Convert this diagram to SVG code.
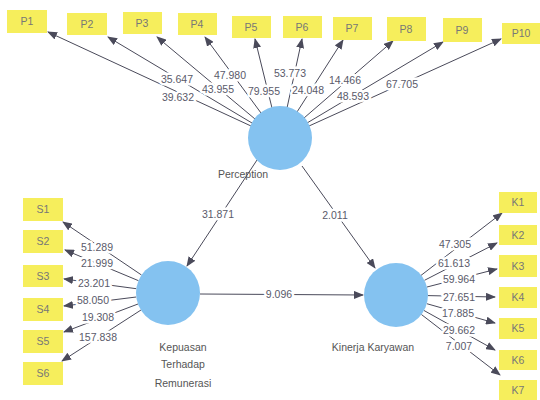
<svg xmlns="http://www.w3.org/2000/svg" width="540" height="400" viewBox="0 0 540 400">
<defs>
<marker id="ah" markerWidth="10" markerHeight="8" refX="9" refY="4" orient="auto" markerUnits="userSpaceOnUse">
<path d="M0,0 L10,4 L0,8 Z" fill="#4a4a5a"/>
</marker>
<style>
.bx{fill:#f6ee5c}
.bt{font-family:"Liberation Sans",Arial,sans-serif;font-size:10.5px;fill:#777;text-anchor:middle}
.cn line{stroke:#4a4a5a;stroke-width:1;marker-end:url(#ah)}
.lb{font-family:"Liberation Sans",Arial,sans-serif;font-size:10.5px;fill:#5a5a6a;text-anchor:middle;stroke:#fff;stroke-width:5px;paint-order:stroke;stroke-linejoin:round}
.cl{fill:#84c2f0}
.ct{font-family:"Liberation Sans",Arial,sans-serif;font-size:10.5px;fill:#555;text-anchor:middle}
</style>
</defs>
<rect width="540" height="400" fill="#fff"/>
<g id="connectors" class="cn">
<line x1="251" y1="126" x2="48" y2="32"/>
<line x1="252" y1="123" x2="108" y2="37"/>
<line x1="255" y1="119" x2="157" y2="37"/>
<line x1="261" y1="113" x2="205" y2="37"/>
<line x1="272" y1="108" x2="255" y2="39"/>
<line x1="287" y1="108" x2="302" y2="39"/>
<line x1="297" y1="112" x2="343" y2="40"/>
<line x1="304" y1="118" x2="393" y2="41"/>
<line x1="307" y1="123" x2="443" y2="42"/>
<line x1="309" y1="126" x2="501" y2="39"/>
<line x1="141.5" y1="275" x2="63" y2="222"/>
<line x1="138.5" y1="280.7" x2="65" y2="250"/>
<line x1="136.3" y1="288.7" x2="64" y2="279"/>
<line x1="136.2" y1="297" x2="64" y2="306"/>
<line x1="138" y1="304" x2="64" y2="332"/>
<line x1="141" y1="310" x2="62" y2="361"/>
<line x1="421" y1="275.4" x2="502" y2="213"/>
<line x1="424.5" y1="280.3" x2="497" y2="243"/>
<line x1="427" y1="287" x2="497" y2="269"/>
<line x1="428" y1="295.6" x2="495" y2="297"/>
<line x1="426.8" y1="303.7" x2="495" y2="323"/>
<line x1="424" y1="310.5" x2="495" y2="350"/>
<line x1="421.4" y1="314.5" x2="500" y2="375"/>
<line x1="257" y1="160" x2="187" y2="266"/>
<line x1="302" y1="166" x2="375" y2="268"/>
<line x1="200" y1="294" x2="363" y2="295"/>
</g>
<g id="labels">
<text class="lb" x="177" y="83">35.647</text>
<text class="lb" x="178" y="101">39.632</text>
<text class="lb" x="230" y="79">47.980</text>
<text class="lb" x="218" y="93">43.955</text>
<text class="lb" x="264" y="95">79.955</text>
<text class="lb" x="290" y="77">53.773</text>
<text class="lb" x="308" y="94">24.048</text>
<text class="lb" x="345" y="84">14.466</text>
<text class="lb" x="353" y="100">48.593</text>
<text class="lb" x="402" y="88">67.705</text>
<text class="lb" x="97" y="251">51.289</text>
<text class="lb" x="97" y="267">21.999</text>
<text class="lb" x="94" y="287">23.201</text>
<text class="lb" x="93" y="304">58.050</text>
<text class="lb" x="98" y="321">19.308</text>
<text class="lb" x="98" y="341">157.838</text>
<text class="lb" x="455" y="248">47.305</text>
<text class="lb" x="454" y="267">61.613</text>
<text class="lb" x="459" y="283">59.964</text>
<text class="lb" x="459" y="301">27.651</text>
<text class="lb" x="458" y="317">17.885</text>
<text class="lb" x="459" y="334">29.662</text>
<text class="lb" x="459" y="350">7.007</text>
<text class="lb" x="218" y="218">31.871</text>
<text class="lb" x="335" y="219">2.011</text>
<text class="lb" x="279" y="298">9.096</text>
</g>
<g id="perception"><circle class="cl" cx="280" cy="138" r="32"/><text class="ct" x="243" y="178">Perception</text></g>
<g id="kepuasan"><circle class="cl" cx="168" cy="293" r="32"/><text class="ct" x="183" y="351">Kepuasan</text><text class="ct" x="183" y="368">Terhadap</text><text class="ct" x="183" y="387">Remunerasi</text></g>
<g id="kinerja"><circle class="cl" cx="396" cy="295" r="32"/><text class="ct" x="373" y="351">Kinerja Karyawan</text></g>
<g id="P1"><rect class="bx" x="7" y="10" width="40" height="23"/><text class="bt" x="27" y="25">P1</text></g>
<g id="P2"><rect class="bx" x="67" y="13" width="40" height="22"/><text class="bt" x="87" y="28">P2</text></g>
<g id="P3"><rect class="bx" x="123" y="12" width="39" height="22"/><text class="bt" x="142" y="27">P3</text></g>
<g id="P4"><rect class="bx" x="178" y="13" width="39" height="22"/><text class="bt" x="197" y="28">P4</text></g>
<g id="P5"><rect class="bx" x="232" y="16" width="39" height="22"/><text class="bt" x="251" y="31">P5</text></g>
<g id="P6"><rect class="bx" x="283" y="16" width="39" height="22"/><text class="bt" x="302" y="31">P6</text></g>
<g id="P7"><rect class="bx" x="333" y="17" width="39" height="23"/><text class="bt" x="352" y="32">P7</text></g>
<g id="P8"><rect class="bx" x="387" y="17" width="39" height="24"/><text class="bt" x="406" y="33">P8</text></g>
<g id="P9"><rect class="bx" x="443" y="18" width="39" height="24"/><text class="bt" x="462" y="34">P9</text></g>
<g id="P10"><rect class="bx" x="502" y="23" width="38" height="21"/><text class="bt" x="521" y="37">P10</text></g>
<g id="S1"><rect class="bx" x="23" y="198" width="40" height="23"/><text class="bt" x="43" y="213">S1</text></g>
<g id="S2"><rect class="bx" x="23" y="230" width="40" height="23"/><text class="bt" x="43" y="245">S2</text></g>
<g id="S3"><rect class="bx" x="23" y="265" width="40" height="22"/><text class="bt" x="43" y="280">S3</text></g>
<g id="S4"><rect class="bx" x="23" y="298" width="40" height="23"/><text class="bt" x="43" y="313">S4</text></g>
<g id="S5"><rect class="bx" x="23" y="330" width="40" height="23"/><text class="bt" x="43" y="345">S5</text></g>
<g id="S6"><rect class="bx" x="23" y="362" width="40" height="23"/><text class="bt" x="43" y="377">S6</text></g>
<g id="K1"><rect class="bx" x="499" y="192" width="38" height="21"/><text class="bt" x="518" y="206">K1</text></g>
<g id="K2"><rect class="bx" x="499" y="225" width="38" height="20"/><text class="bt" x="518" y="239">K2</text></g>
<g id="K3"><rect class="bx" x="499" y="255" width="38" height="22"/><text class="bt" x="518" y="270">K3</text></g>
<g id="K4"><rect class="bx" x="499" y="287" width="38" height="21"/><text class="bt" x="518" y="301">K4</text></g>
<g id="K5"><rect class="bx" x="499" y="318" width="38" height="21"/><text class="bt" x="518" y="332">K5</text></g>
<g id="K6"><rect class="bx" x="499" y="350" width="38" height="20"/><text class="bt" x="518" y="364">K6</text></g>
<g id="K7"><rect class="bx" x="499" y="380" width="38" height="20"/><text class="bt" x="518" y="394">K7</text></g>
</svg>
